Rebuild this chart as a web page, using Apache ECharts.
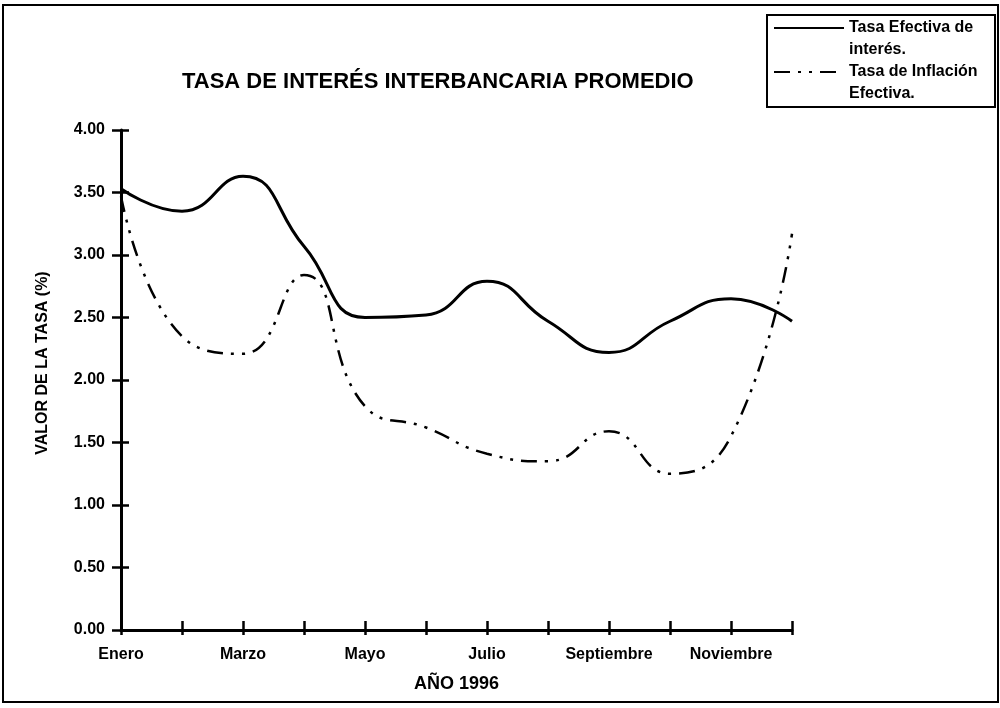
<!DOCTYPE html>
<html>
<head>
<meta charset="utf-8">
<script src="https://cdn.jsdelivr.net/npm/echarts@6/dist/echarts.min.js"></script>
<style>
  html, body { margin: 0; padding: 0; background: #fff; }
  #chart { width: 1000px; height: 708px; }
</style>
</head>
<body>
<div id="chart"></div>
<script>
// meses del año 1996
const meses = ['Enero', 'Febrero', 'Marzo', 'Abril', 'Mayo', 'Junio', 'Julio',
  'Agosto', 'Septiembre', 'Octubre', 'Noviembre', 'Diciembre'];
// valores (%)
const tasaEfectiva = [3.53, 3.35, 3.63, 3.07, 2.50, 2.52, 2.79, 2.47, 2.22, 2.47, 2.65, 2.47];
const tasaInflacion = [3.47, 2.35, 2.21, 2.84, 1.79, 1.62, 1.41, 1.35, 1.59, 1.25, 1.55, 3.17];

const fuente = 'Liberation Sans, Arial, sans-serif';
const negro = '#000';

let chart = echarts.init(document.getElementById('chart'));
chart.setOption({
  backgroundColor: '#fff',
  animation: false,
  title: {
    text: 'TASA DE INTERÉS INTERBANCARIA PROMEDIO',
    left: 177,
    top: 66,
    textStyle: { fontFamily: fuente, fontWeight: 'bold', fontSize: 22, color: negro }
  },
  legend: {
    orient: 'vertical',
    left: 773,
    top: -5,
    padding: 0,
    itemWidth: 70,
    itemHeight: 10,
    itemGap: -22,
    itemStyle: { opacity: 0 },
    data: ['Tasa Efectiva de\ninterés.', 'Tasa de Inflación\nEfectiva.'],
    // línea vacía arriba para que la muestra quede junto a la primera línea del texto
    formatter: name => '\n' + name,
    textStyle: {
      fontFamily: fuente, fontWeight: 'bold', fontSize: 16, color: negro, lineHeight: 22
    }
  },
  grid: { left: 121, right: 208, top: 130, bottom: 78 },
  xAxis: [{
    type: 'category',
    data: meses,
    boundaryGap: false,
    name: 'AÑO 1996',
    nameLocation: 'middle',
    nameGap: 45,
    nameTextStyle: { fontFamily: fuente, fontWeight: 'bold', fontSize: 18, color: negro },
    axisLine: { lineStyle: { color: negro, width: 3 } },
    axisTick: { show: true, interval: 0, length: 5, lineStyle: { color: negro, width: 2.5 } },
    axisLabel: {
      interval: 1, margin: 17,
      fontFamily: fuente, fontWeight: 'bold', fontSize: 16, color: negro
    },
    splitLine: { show: false }
  }, {
    // marcas hacia dentro del eje X
    type: 'category',
    data: meses,
    boundaryGap: false,
    position: 'bottom',
    axisLine: { show: false },
    axisTick: { show: true, inside: true, interval: 0, length: 9, lineStyle: { color: negro, width: 2.5 } },
    axisLabel: { show: false }
  }],
  yAxis: [{
    type: 'value',
    min: 0,
    max: 4,
    interval: 0.5,
    name: 'VALOR DE LA TASA (%)',
    nameLocation: 'middle',
    nameGap: 70,
    nameTextStyle: {
      fontFamily: fuente, fontWeight: 'bold', fontSize: 16, color: negro,
      padding: [0, 0, 0, 34]
    },
    axisLine: { show: true, lineStyle: { color: negro, width: 3 } },
    axisTick: { show: true, length: 9, lineStyle: { color: negro, width: 2.5 } },
    axisLabel: {
      margin: 16,
      formatter: v => v.toFixed(2),
      fontFamily: fuente, fontWeight: 'bold', fontSize: 16, color: negro
    },
    splitLine: { show: false }
  }, {
    // marcas hacia dentro del eje Y
    type: 'value',
    min: 0,
    max: 4,
    interval: 0.5,
    position: 'left',
    axisLine: { show: false },
    axisTick: { show: true, inside: true, length: 8, lineStyle: { color: negro, width: 2.5 } },
    axisLabel: { show: false },
    splitLine: { show: false }
  }],
  series: [{
    name: 'Tasa Efectiva de\ninterés.',
    type: 'line',
    data: tasaEfectiva,
    smooth: 0.5,
    symbol: 'none',
    lineStyle: { color: negro, width: 3 },
    itemStyle: { color: negro }
  }, {
    name: 'Tasa de Inflación\nEfectiva.',
    type: 'line',
    data: tasaInflacion,
    smooth: 0.5,
    symbol: 'none',
    lineStyle: { color: negro, width: 2.5, type: [16, 8, 3, 8, 3, 8] },
    itemStyle: { color: negro }
  }],
  graphic: [{
    type: 'rect',
    shape: { x: 3, y: 5, width: 995, height: 697 },
    style: { fill: 'none', stroke: negro, lineWidth: 2 },
    silent: true
  }, {
    // marco de la leyenda
    type: 'rect',
    shape: { x: 767, y: 15, width: 228, height: 92 },
    style: { fill: 'none', stroke: negro, lineWidth: 2 },
    silent: true
  }]
});
</script>
</body>
</html>
